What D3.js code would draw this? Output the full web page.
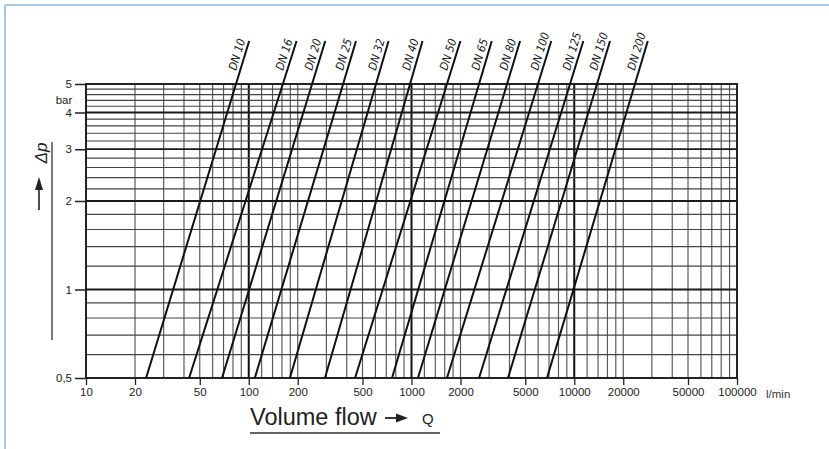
<!DOCTYPE html>
<html>
<head>
<meta charset="utf-8">
<script src="https://cdn.jsdelivr.net/npm/d3@7"></script>
<style>
  html, body { margin: 0; padding: 0; background: #fff; }
  svg { display: block; }
  .tick text { font-family: "Liberation Sans", Arial, sans-serif; font-size: 11.5px; fill: #222; }
  .dn-label { font-family: "Liberation Sans Narrow", "DejaVu Sans Condensed", sans-serif; font-size: 11.5px; font-style: italic; fill: #1a1a1a; }
</style>
</head>
<body>
<svg id="chart" width="829" height="449"></svg>
<script>
const $ = (s) => document.querySelector(s);

// pipe sizes and Q (l/min) where each line meets 0.5 bar and 5 bar
const dnLabels = ['DN 10', 'DN 16', 'DN 20', 'DN 25', 'DN 32', 'DN 40', 'DN 50', 'DN 65', 'DN 80', 'DN 100', 'DN 125', 'DN 150', 'DN 200'];
const qAtLow = [23.4, 43, 68.5, 109, 179, 294, 450, 759, 1096, 1652, 2600, 3917, 6800];
const qAtHigh = [83.5, 162, 245, 380, 605, 980, 1652, 2600, 3865, 5985, 9420, 13800, 23600];

const xTicks = [10, 20, 50, 100, 200, 500, 1000, 2000, 5000, 10000, 20000, 50000, 100000];
const yTicks = [0.5, 1, 2, 3, 4, 5];
const yTickLabels = ['0,5', '1', '2', '3', '4', '5'];
const yGridMajor = [1, 2, 3, 4];
const yGridMinor = [0.6, 0.7, 0.8, 0.9, 1.2, 1.4, 1.6, 1.8, 2.2, 2.4, 2.6, 2.8, 3.2, 3.4, 3.6, 3.8, 4.2, 4.4, 4.6, 4.8];
const decades = [10, 100, 1000, 10000];
const xGridSteps = [1.2, 1.4, 1.6, 1.8, 2, 3, 4, 5, 6, 7, 8, 9];

const svg = d3.select('#chart');
const x = d3.scaleLog().domain([10, 100000]).range([86, 737]);
const y = d3.scaleLog().domain([0.5, 5]).range([378, 84]);

// blue picture frame
svg.append('line').attr('x1', 5).attr('y1', 5).attr('x2', 829).attr('y2', 5).attr('stroke', '#8fb6df').attr('stroke-width', 1.5);
svg.append('line').attr('x1', 5).attr('y1', 5).attr('x2', 5).attr('y2', 449).attr('stroke', '#8fb6df').attr('stroke-width', 1.5);

// ============== Grid ==============
const xMinor = [];
decades.forEach(d => xGridSteps.forEach(s => { if (!(d === 10 && s < 2)) xMinor.push(d * s); }));

const grid = svg.append('g');
grid.selectAll('line.vmin').data(xMinor).enter().append('line')
  .attr('x1', d => x(d)).attr('x2', d => x(d)).attr('y1', y(5)).attr('y2', y(0.5))
  .attr('stroke', '#555').attr('stroke-width', 1.15);
grid.selectAll('line.vmaj').data([100, 1000, 10000]).enter().append('line')
  .attr('x1', d => x(d)).attr('x2', d => x(d)).attr('y1', y(5)).attr('y2', y(0.5))
  .attr('stroke', '#111').attr('stroke-width', 2);
grid.selectAll('line.hmin').data(yGridMinor).enter().append('line')
  .attr('x1', x(10)).attr('x2', x(100000)).attr('y1', d => y(d)).attr('y2', d => y(d))
  .attr('stroke', '#444').attr('stroke-width', 1.2);
grid.selectAll('line.hmaj').data(yGridMajor).enter().append('line')
  .attr('x1', x(10)).attr('x2', x(100000)).attr('y1', d => y(d)).attr('y2', d => y(d))
  .attr('stroke', '#1a1a1a').attr('stroke-width', 1.8);

svg.append('rect').attr('x', x(10)).attr('y', y(5)).attr('width', x(100000) - x(10)).attr('height', y(0.5) - y(5))
  .attr('fill', 'none').attr('stroke', '#1a1a1a').attr('stroke-width', 1.9);

// ============== Axes ==============
const xAxis = svg.append('g').attr('transform', `translate(0,${y(0.5)})`)
  .call(d3.axisBottom(x).tickValues(xTicks).tickFormat(d => String(d)).tickSize(7).tickPadding(3));
xAxis.select('.domain').remove();
xAxis.selectAll('.tick line').attr('stroke', '#222').attr('stroke-width', 1.3);

const yAxis = svg.append('g').attr('transform', `translate(${x(10)},0)`)
  .call(d3.axisLeft(y).tickValues(yTicks).tickFormat((d, i) => yTickLabels[i]).tickSize(11).tickPadding(3));
yAxis.select('.domain').remove();
yAxis.selectAll('.tick line').attr('stroke', '#222').attr('stroke-width', 1.5);

svg.append('text').attr('x', 64).attr('y', 101).attr('text-anchor', 'middle').attr('dominant-baseline', 'middle')
  .style('font', '11.5px "Liberation Sans", Arial, sans-serif').attr('fill', '#222').text('bar');
svg.append('text').attr('x', x(100000) + 29).attr('y', y(0.5) + 17).attr('dominant-baseline', 'middle')
  .style('font', '11.5px "Liberation Sans", Arial, sans-serif').attr('fill', '#333').text('l/min');

// ============== DN lines ==============
const dpPoints = [0.5, 5, 7];
const lineGen = d3.line().x(d => x(d.q)).y(d => y(d.dp));
const dn = dnLabels.map((label, i) => ({
  label,
  pts: dpPoints.map(dp => ({ dp, q: qAtLow[i] * Math.pow(qAtHigh[i] / qAtLow[i], Math.log10(dp / 0.5)) }))
}));

svg.append('g').selectAll('path').data(dn).enter().append('path')
  .attr('d', d => lineGen(d.pts)).attr('fill', 'none').attr('stroke', '#111').attr('stroke-width', 2);

svg.append('g').selectAll('text').data(dn).enter().append('text')
  .attr('class', 'dn-label')
  .attr('transform', d => {
    const a = d.pts[1], b = d.pts[2];
    const x0 = x(a.q), y0 = y(a.dp), x1 = x(b.q), y1 = y(b.dp);
    const ang = Math.atan2(y1 - y0, x1 - x0) * 180 / Math.PI;
    const ly = 71;
    const lx = x0 + (x1 - x0) * (ly - y0) / (y1 - y0) - 4;
    return `translate(${lx},${ly}) rotate(${ang})`;
  })
  .text(d => d.label);

// ============== Titles ==============
svg.append('text').attr('transform', 'translate(47,153) rotate(-90)').attr('text-anchor', 'middle')
  .style('font', 'italic 17px "Liberation Sans", Arial, sans-serif').attr('fill', '#222').text('Δp');
svg.append('line').attr('x1', 39).attr('x2', 39).attr('y1', 210).attr('y2', 188).attr('stroke', '#222').attr('stroke-width', 1.6);
svg.append('path').attr('d', 'M39,177 L35,190 L43,190 Z').attr('fill', '#222');
svg.append('line').attr('x1', 52).attr('x2', 52).attr('y1', 142).attr('y2', 340).attr('stroke', '#333').attr('stroke-width', 1.3);

svg.append('text').attr('x', 250).attr('y', 425)
  .style('font', '23.5px "Liberation Sans", Arial, sans-serif').attr('fill', '#222').text('Volume flow');
svg.append('line').attr('x1', 385).attr('x2', 398).attr('y1', 418).attr('y2', 418).attr('stroke', '#222').attr('stroke-width', 1.8);
svg.append('path').attr('d', 'M408,418 L396,413.5 L396,422.5 Z').attr('fill', '#222');
svg.append('text').attr('x', 422).attr('y', 424)
  .style('font', '15px "Liberation Sans", Arial, sans-serif').attr('fill', '#222').text('Q');
svg.append('line').attr('x1', 250).attr('x2', 440).attr('y1', 433).attr('y2', 433).attr('stroke', '#333').attr('stroke-width', 1.4);
</script>
</body>
</html>
